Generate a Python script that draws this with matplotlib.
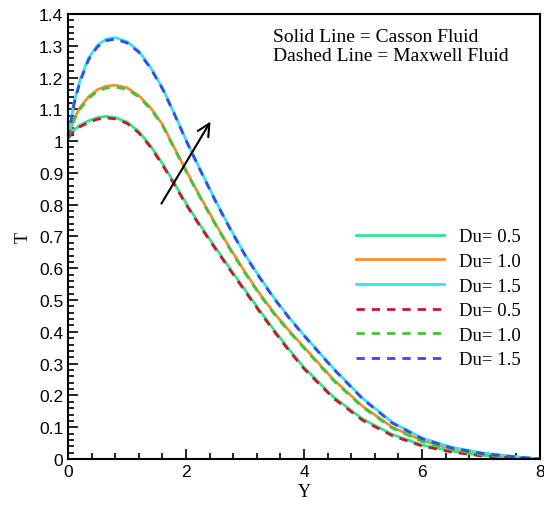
import matplotlib
matplotlib.use("Agg")
import matplotlib.pyplot as plt
from matplotlib.ticker import MultipleLocator, FuncFormatter

# Y positions
y_pts = [0, 0.1, 0.2, 0.35, 0.5, 0.65, 0.8, 1.0, 1.2, 1.4, 1.6, 1.8, 2.0, 2.25, 2.5,
         2.75, 3.0, 3.25, 3.5, 3.75, 4.0, 4.5, 5.0, 5.5, 6.0, 6.5, 7.0, 7.5, 8.0]

# Casson fluid (solid)
casson_05 = [1.01, 1.035, 1.05, 1.064, 1.074, 1.078, 1.074, 1.06, 1.03, 0.985, 0.93, 0.868,
             0.805, 0.733, 0.665, 0.598, 0.532, 0.467, 0.404, 0.344, 0.288, 0.195, 0.125,
             0.077, 0.044, 0.025, 0.012, 0.005, 0.0]
casson_10 = [1.01, 1.07, 1.105, 1.14, 1.162, 1.173, 1.176, 1.168, 1.143, 1.105, 1.053, 0.98,
             0.908, 0.822, 0.74, 0.662, 0.588, 0.52, 0.458, 0.403, 0.352, 0.25, 0.165,
             0.1, 0.058, 0.032, 0.016, 0.007, 0.0]
casson_15 = [1.01, 1.12, 1.19, 1.262, 1.302, 1.321, 1.326, 1.313, 1.283, 1.232, 1.168, 1.088,
             1.004, 0.907, 0.813, 0.725, 0.643, 0.572, 0.505, 0.445, 0.39, 0.285, 0.19,
             0.115, 0.066, 0.037, 0.02, 0.009, 0.0]

# Maxwell fluid (dashed)
maxwell_05 = [1.01, 1.03, 1.045, 1.059, 1.069, 1.073, 1.07, 1.056, 1.026, 0.981, 0.926, 0.864,
              0.801, 0.729, 0.661, 0.594, 0.528, 0.463, 0.4, 0.34, 0.284, 0.191, 0.121,
              0.073, 0.041, 0.022, 0.01, 0.004, 0.0]
maxwell_10 = [1.01, 1.065, 1.1, 1.135, 1.157, 1.167, 1.17, 1.163, 1.139, 1.101, 1.05, 0.977,
              0.905, 0.819, 0.737, 0.659, 0.585, 0.517, 0.455, 0.4, 0.349, 0.247, 0.162,
              0.097, 0.055, 0.03, 0.014, 0.006, 0.0]
maxwell_15 = [1.01, 1.115, 1.185, 1.257, 1.297, 1.316, 1.321, 1.309, 1.28, 1.229, 1.165, 1.086,
              1.002, 0.905, 0.811, 0.723, 0.641, 0.57, 0.503, 0.443, 0.388, 0.283, 0.188,
              0.113, 0.064, 0.035, 0.018, 0.008, 0.0]

labels = ["Du= 0.5", "Du= 1.0", "Du= 1.5"]
solid_colors = ["#2fe68c", "#f3902f", "#33e2f2"]
dash_colors = ["#c41a2c", "#3cc63c", "#3a4ae2"]

fig = plt.figure(figsize=(5.44, 5.06), dpi=100)
ax = fig.add_axes([0.125, 0.0909, 0.8676, 0.8795])

for vals, c, lab in zip([casson_05, casson_10, casson_15], solid_colors, labels):
    ax.plot(y_pts, vals, color=c, lw=2.0, label=lab)
for vals, c, lab in zip([maxwell_05, maxwell_10, maxwell_15], dash_colors, labels):
    ax.plot(y_pts, vals, color=c, lw=2.0, dashes=(3, 2.5), label=lab)

ax.set_xlim(0, 8)
ax.set_ylim(0, 1.4)
ax.xaxis.set_major_locator(MultipleLocator(2))
ax.xaxis.set_minor_locator(MultipleLocator(0.4))
ax.yaxis.set_major_locator(MultipleLocator(0.1))
ax.yaxis.set_minor_locator(MultipleLocator(0.02))
fmt = FuncFormatter(lambda v, p: "%g" % round(v, 2))
ax.xaxis.set_major_formatter(fmt)
ax.yaxis.set_major_formatter(fmt)
ax.tick_params(which="both", direction="in", top=False, right=False,
               labelsize=12.5, width=1.2)
ax.tick_params(which="major", length=7)
ax.tick_params(which="minor", length=4)
for lab in ax.get_xticklabels() + ax.get_yticklabels():
    lab.set_family("Liberation Sans")
for s in ax.spines.values():
    s.set_linewidth(1.5)

ax.set_xlabel("Y", family="Liberation Serif", fontsize=13, labelpad=3)
ax.set_ylabel("T", family="Liberation Serif", fontsize=13, labelpad=5)

ax.text(0.435, 0.968, "Solid Line = Casson Fluid\nDashed Line = Maxwell Fluid",
        transform=ax.transAxes, family="Liberation Serif", fontsize=14,
        va="top", ha="left", linespacing=1.12)

ax.annotate("", xy=(2.44, 1.069), xytext=(1.56, 0.796),
            arrowprops=dict(arrowstyle="->", color="black", lw=1.5,
                            mutation_scale=22))

ax.legend(loc="center", bbox_to_anchor=(0.784, 0.361), frameon=False,
          prop={"family": "Liberation Serif", "size": 13.5},
          handlelength=4.7, handletextpad=0.8, labelspacing=0.4)

fig.savefig("out.png", dpi=100)
